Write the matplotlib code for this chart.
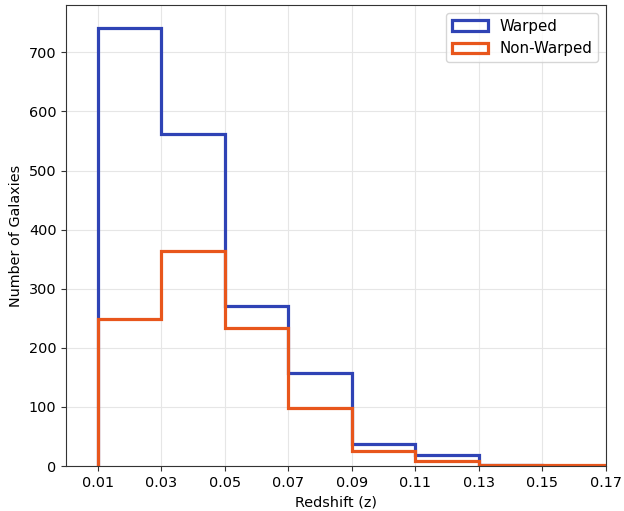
import matplotlib
matplotlib.use('Agg')
import matplotlib.pyplot as plt
import numpy as np

# bin edges and counts
edges = [0.01, 0.03, 0.05, 0.07, 0.09, 0.11, 0.13, 0.15, 0.17]
warped = [741, 562, 271, 158, 38, 19, 2, 0]
non_warped = [248, 364, 234, 98, 26, 8, 1, 1]
tick_labels = ['0.01', '0.03', '0.05', '0.07', '0.09', '0.11', '0.13', '0.15', '0.17']

plt.rcParams['font.size'] = 10.4
plt.rcParams['axes.edgecolor'] = '#333333'
plt.rcParams['xtick.color'] = '#333333'
plt.rcParams['ytick.color'] = '#333333'
plt.rcParams['xtick.labelcolor'] = 'black'
plt.rcParams['ytick.labelcolor'] = 'black'

fig = plt.figure(figsize=(6.24, 5.11), dpi=100)
ax = fig.add_axes([0.106, 0.088, 0.865, 0.902])

centers = np.array(edges[:-1]) + 0.01
ax.hist(centers, bins=edges, weights=warped, histtype='step',
        color='#2f43b5', linewidth=2.3, label='Warped')
ax.hist(centers, bins=edges, weights=non_warped, histtype='step',
        color='#e8561c', linewidth=2.3, label='Non-Warped')

ax.set_xlim(0.0, 0.17)
ax.set_ylim(0, 780)
ax.set_xticks(edges)
ax.set_xticklabels(tick_labels)
ax.set_yticks(range(0, 800, 100))
ax.grid(True, color='#e6e6e6', linewidth=0.8)
ax.set_axisbelow(True)
ax.set_xlabel('Redshift (z)')
ax.set_ylabel('Number of Galaxies')
ax.legend(loc='upper right', fontsize=10.8, handlelength=2.4)

fig.savefig('out.png', dpi=100)
